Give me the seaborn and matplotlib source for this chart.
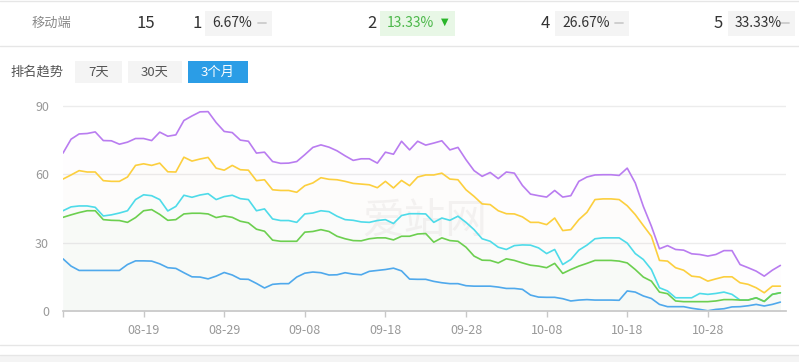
import pandas as pd
import seaborn as sns
import matplotlib.pyplot as plt
from matplotlib.patches import Rectangle

# Ranking trend data: 90 daily points (08-09 .. 11-06), stacked share lines
dates = pd.date_range("2023-08-09", periods=90).strftime("%m-%d").tolist()

purple = [69.3, 75.4, 77.7, 77.9, 78.6, 74.8, 74.7, 73.2, 74.1, 75.7,
          75.7, 74.8, 78.5, 76.7, 77.3, 83.6, 85.6, 87.4, 87.5, 82.7,
          78.8, 78.3, 75.0, 74.5, 69.3, 69.7, 65.6, 64.8, 64.9, 65.6,
          68.6, 71.8, 72.9, 71.9, 70.3, 68.1, 66.1, 66.8, 66.8, 64.9,
          69.7, 68.8, 74.5, 70.7, 74.5, 72.8, 73.7, 74.7, 70.7, 71.8,
          66.4, 61.6, 59.1, 60.8, 58.1, 61.0, 60.5, 55.1, 51.3, 50.6,
          50.0, 52.9, 50.0, 50.6, 56.9, 58.8, 59.7, 59.8, 59.8, 59.5,
          62.7, 56.2, 45.9, 37.2, 27.3, 28.7, 27.0, 26.7, 25.1, 24.8,
          24.1, 24.8, 26.5, 26.5, 20.4, 19.0, 17.5, 15.3, 17.9, 20.0]
yellow = [57.9, 59.7, 61.6, 61.0, 61.0, 57.2, 56.9, 56.9, 58.8, 63.9,
          64.6, 63.9, 64.9, 61.1, 61.0, 67.5, 65.8, 66.7, 67.4, 62.7,
          61.8, 63.9, 62.0, 61.8, 57.2, 57.6, 53.2, 52.9, 52.9, 52.1,
          55.0, 56.2, 58.5, 57.8, 57.6, 56.9, 56.0, 55.7, 55.4, 54.1,
          56.9, 54.0, 57.3, 55.0, 58.8, 59.7, 59.7, 60.5, 57.9, 57.6,
          53.2, 50.3, 47.0, 46.7, 44.0, 42.7, 42.6, 41.3, 38.9, 38.9,
          37.9, 40.8, 35.3, 35.7, 40.1, 43.3, 48.9, 49.2, 49.2, 48.9,
          46.2, 42.3, 37.5, 32.8, 22.2, 21.9, 19.0, 17.9, 15.3, 14.9,
          13.1, 14.1, 15.0, 15.0, 12.4, 11.7, 10.2, 8.0, 10.9, 10.9]
cyan = [44.0, 45.7, 46.1, 46.1, 45.5, 41.7, 42.2, 43.0, 44.0, 48.9,
        51.0, 50.6, 48.9, 43.9, 45.9, 50.8, 49.9, 50.9, 51.5, 48.9,
        50.2, 50.8, 49.3, 48.9, 44.0, 44.8, 40.4, 39.7, 39.7, 38.9,
        42.6, 43.0, 44.0, 43.6, 41.6, 40.1, 39.8, 39.1, 38.9, 39.7,
        40.1, 38.4, 41.9, 42.7, 42.7, 42.6, 38.9, 40.8, 39.8, 41.6,
        38.9, 35.7, 31.7, 30.6, 28.0, 27.0, 28.7, 29.0, 28.9, 27.7,
        25.2, 27.0, 20.4, 22.6, 26.7, 28.9, 31.7, 32.1, 32.1, 32.1,
        29.8, 25.2, 22.6, 18.2, 10.2, 8.8, 5.8, 5.8, 5.8, 7.7,
        7.3, 7.7, 8.3, 7.3, 4.8, 4.8, 5.8, 4.2, 7.3, 8.0]
green = [41.1, 42.2, 43.2, 44.0, 44.0, 40.1, 39.8, 39.7, 38.9, 41.0,
         44.0, 44.5, 42.4, 39.8, 40.1, 42.6, 42.9, 42.9, 42.6, 41.0,
         41.7, 41.1, 39.4, 38.7, 35.9, 35.0, 31.1, 30.6, 30.6, 30.6,
         34.6, 34.9, 35.7, 34.9, 32.8, 31.7, 30.9, 30.8, 31.7, 32.1,
         32.1, 31.2, 32.8, 32.8, 33.8, 34.0, 30.2, 32.1, 30.9, 30.6,
         28.0, 24.1, 22.3, 22.2, 21.1, 22.9, 22.2, 21.1, 20.1, 19.7,
         19.0, 20.9, 16.5, 18.2, 19.7, 20.9, 22.2, 22.2, 22.2, 21.9,
         21.1, 18.2, 14.9, 13.1, 8.3, 7.6, 4.4, 4.1, 4.1, 4.1,
         4.1, 4.4, 5.0, 5.0, 4.8, 4.8, 5.8, 4.2, 7.3, 8.0]
blue = [22.9, 19.7, 17.8, 17.8, 17.8, 17.8, 17.8, 17.8, 20.4, 22.0,
        22.0, 21.9, 20.7, 19.0, 18.7, 16.8, 15.0, 14.9, 14.1, 15.3,
        16.9, 15.8, 14.0, 13.9, 12.1, 10.1, 11.7, 12.0, 12.0, 14.9,
        16.6, 17.1, 16.8, 15.8, 15.9, 16.8, 16.2, 15.9, 17.4, 17.8,
        18.2, 18.8, 17.6, 14.0, 13.9, 13.9, 13.0, 12.4, 12.0, 12.0,
        11.1, 10.9, 10.9, 10.9, 10.5, 9.9, 9.9, 9.5, 7.0, 6.1,
        6.0, 6.0, 5.4, 4.4, 4.8, 5.0, 4.8, 4.8, 4.8, 4.7,
        8.8, 8.3, 6.6, 5.5, 2.9, 1.9, 1.9, 1.9, 1.2, 0.7,
        0.1, 0.7, 1.0, 1.8, 1.9, 2.3, 2.9, 2.2, 2.9, 3.9]

series_names = ["5", "4", "2", "1", "top"]
series_values = [purple, yellow, cyan, green, blue]
colors = ["#b97cf0", "#fccf3e", "#4edbe9", "#6ccf4f", "#4fa9ec"]

# summary row
ranks = ["1", "2", "4", "5"]
shares = ["6.67%", "13.33%", "26.67%", "33.33%"]
periods = ["7天", "30天", "3个月"]

rows = []
for name, vals in zip(series_names, series_values):
    for i, v in enumerate(vals):
        rows.append({"day": i, "value": v, "series": name})
df = pd.DataFrame(rows)

sns.set_theme(style="white")
plt.rcParams['font.family'] = ['Noto Sans CJK SC', 'DejaVu Sans']

W, H = 799, 362
fig = plt.figure(figsize=(W / 100, H / 100), dpi=100)


def fx(x):
    return x / W


def fy(y):
    return 1 - y / H


def hline(y, color="#e6e6e6", x0=0, x1=W, lw=1):
    fig.add_artist(plt.Line2D([fx(x0), fx(x1)], [fy(y), fy(y)], color=color, lw=lw))


def box(x0, x1, y0, y1, color):
    fig.add_artist(Rectangle((fx(x0), fy(y1)), fx(x1 - x0), (y1 - y0) / H,
                             facecolor=color, edgecolor="none"))


# header row
hline(1)
hline(46)
fig.text(fx(32), fy(23), "移动端", color="#888888", fontsize=9.5, va="center")
fig.text(fx(136), fy(23), "15", color="#333333", fontsize=12, va="center")

rank_x = [193, 367, 541, 714]
box_x = [(205, 272), (380, 455), (555, 629), (728, 795)]
for r, s, rx, (b0, b1) in zip(ranks, shares, rank_x, box_x):
    fig.text(fx(rx), fy(23), r, color="#333333", fontsize=12, va="center")
    if r == "2":
        box(b0, b1, 11, 36, "#e8f7e6")
        fig.text(fx(b0 + 7), fy(23), s, color="#4cb84a", fontsize=10, va="center")
        fig.text(fx(b1 - 14), fy(22), "▼", color="#2ab52a", fontsize=7,
                 va="center", family="DejaVu Sans")
    else:
        box(b0, b1, 11, 36, "#f4f4f4")
        fig.text(fx(b0 + 7), fy(23), s, color="#333333", fontsize=10, va="center")
        hline(23, "#cccccc", b1 - 14, b1 - 6, lw=1.3)

# period selector
fig.text(fx(10), fy(72), "排名趋势", color="#555555", fontsize=9.5, va="center")
btn_x = [(75, 122), (128, 182), (188, 248)]
for p, (b0, b1) in zip(periods, btn_x):
    active = p == "3个月"
    box(b0, b1, 61, 83, "#2b9de6" if active else "#f4f4f4")
    fig.text(fx((b0 + b1) / 2), fy(72), p, color="white" if active else "#555555",
             fontsize=9.5, va="center", ha="center")

# bottom separators
hline(345)
box(0, W, 355, H, "#f4f4f4")
hline(355)

# chart
ax = fig.add_axes([fx(63), fy(311), fx(786 - 63), 211 / H])
ax.set_facecolor("none")
ax.text(0.5, 0.42, "爱站网", transform=ax.transAxes, ha="center", va="center",
        fontsize=30, color="#f4f4f4", zorder=0)

for vals, c in zip(series_values, colors):
    ax.fill_between(range(len(vals)), vals, 0, color=c, alpha=0.012, lw=0)

sns.lineplot(data=df, x="day", y="value", hue="series", hue_order=series_names,
             palette=colors, legend=False, lw=1.2, ax=ax)

ax.set_xlim(0, 89.7)
ax.set_ylim(0, 92.6)
ax.set_yticks([0, 30, 60, 90])
ax.set_yticklabels(["0", "30", "60", "90"])
ticks = list(range(0, 90, 10))
ax.set_xticks(ticks)
ax.set_xticklabels([""] + [dates[t] for t in ticks[1:]])
ax.set_xlabel("")
ax.set_ylabel("")
for g in [30, 60, 90]:
    ax.axhline(g, color="#ececec", lw=1, zorder=0)

for side in ["top", "right", "left"]:
    ax.spines[side].set_visible(False)
ax.spines["bottom"].set_color("#c8c8c8")
ax.tick_params(axis="x", colors="#c8c8c8", length=4, width=1, pad=5,
               labelcolor="#999999", labelsize=9, bottom=True)
ax.tick_params(axis="y", length=0, pad=10, labelcolor="#999999", labelsize=9)

fig.savefig("out.png", dpi=100)
